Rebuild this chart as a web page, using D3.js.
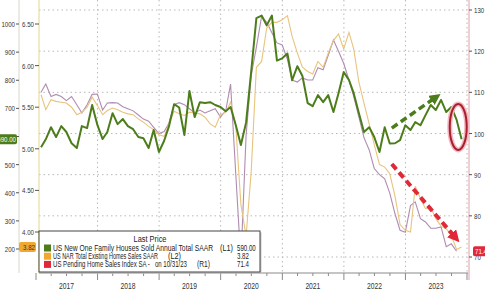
<!DOCTYPE html>
<html>
<head>
<meta charset="utf-8">
<script src="https://cdn.jsdelivr.net/npm/d3@7"></script>
<style>
  html, body { margin: 0; padding: 0; background: #fff; }
  svg { display: block; font-family: "Liberation Sans", Arial, sans-serif; }
</style>
</head>
<body>
<svg id="chart"></svg>
<script>
// monthly series, Jan 2017 onwards
const startMonth = new Date(2017, 0, 1);

// US New One Family Houses Sold, SAAR (thousands) - L1
const newHomeSales = [
  562, 590, 633, 598, 637, 616, 576, 559, 637, 630, 712, 641,
  591, 616, 683, 644, 662, 637, 626, 598, 594, 559, 623, 545,
  585, 635, 715, 703, 605, 762, 669, 722, 719, 722, 712, 705,
  690, 705, 640, 570, 650, 830, 1021, 1030, 995, 1030, 870, 878,
  895, 800, 850, 815, 719, 708, 747, 722, 747, 687, 754, 829,
  801, 754, 683, 616, 633, 598, 545, 633, 575, 576, 587, 640,
  623, 651, 640, 676, 712, 694, 730, 687, 705, 660, 590
];

// US NAR Total Existing Homes Sales, SAAR (millions) - L2
const existingHomeSales = [
  5.65, 5.47, 5.59, 5.57, 5.56, 5.55, 5.50, 5.41, 5.44, 5.50, 5.62, 5.52,
  5.41, 5.46, 5.49, 5.47, 5.44, 5.42, 5.41, 5.36, 5.32, 5.27, 5.23, 5.17,
  5.15, 5.30, 5.45, 5.42, 5.40, 5.44, 5.43, 5.42, 5.38, 5.30, 5.26, 5.41,
  5.44, 5.56, 5.27, 4.33, 3.95, 4.72, 5.98, 6.05, 6.45, 6.52, 6.52, 6.55,
  6.60, 6.35, 6.15, 5.98, 5.93, 5.90, 6.05, 5.98, 6.15, 6.30, 6.38, 6.20,
  6.40, 6.20, 5.80, 5.55, 5.30, 5.05, 4.81, 4.78, 4.70, 4.43, 4.09, 4.02,
  4.00, 4.55, 4.40, 4.28, 4.30, 4.16, 4.07, 4.04, 3.96, 3.79, 3.82
];

// US Pending Home Sales Index SA - R1
const pendingHomeSales = [
  110, 112, 109, 109.5, 109, 108, 109, 107, 105, 107, 109.5, 109.6,
  105.7, 107.4, 107.5, 107.4, 106.5, 106, 105.5, 104.5, 103.5, 103, 101.5, 100,
  100.5, 102.5, 107, 107.5, 107, 106, 105, 105.7, 105, 105.5, 106, 104,
  105.5, 112, 90, 69, 99.6, 114, 121, 128.5, 127, 124.5, 122, 121.5,
  118, 113, 112.5, 113.5, 113, 113, 116, 115.5, 119, 122.7, 120, 117,
  113, 109, 104, 99, 96, 91.5, 90, 89, 85.5, 80.5, 76.5, 76,
  82.5, 83.4, 79.3, 78.5, 77, 77, 77.3, 72.5, 73.2, 71.4
];

const l1Ticks = [200, 300, 400, 500, 600, 700, 800, 900, 1000];
const l2Ticks = [4.0, 4.5, 5.0, 5.5, 6.0, 6.5];
const r1Ticks = [70, 80, 90, 100, 110, 120, 130];
const years = [2017, 2018, 2019, 2020, 2021, 2022, 2023];

const legendRows = [
  { name: "US New One Family Houses Sold Annual Total SAAR", axis: "(L1)", last: "590.00", color: "#4c7d1a" },
  { name: "US NAR Total Existing Homes Sales SAAR", axis: "(L2)", last: "3.82", color: "#f0a830" },
  { name: "US Pending Home Sales Index SA -   on 10/31/23", axis: "(R1)", last: "71.4", color: "#e0283a" }
];

const width = 485;
const height = 291;
const plot = { left: 39, right: 467, top: 0, bottom: 273 };

// the chart font is a narrow one: squeeze labels to their measured width
const numWidth = (s) => s.replace(/[^0-9]/g, "").length * 3.4 + s.replace(/[0-9]/g, "").length * 1.7;

const svg = d3.select("#chart").attr("width", width).attr("height", height);

// points sit at month end
const monthDate = (i) => new Date(startMonth.getFullYear(), startMonth.getMonth() + i + 1, 0);

const x = d3.scaleTime()
  .domain([new Date(2017, 0, 1), new Date(2024, 0, 1)])
  .range([36, 467]);

const yL1 = d3.scaleLinear().domain([200, 1000]).range([249, 24]);
const yL2 = d3.scaleLinear().domain([4.0, 6.5]).range([232, 24]);
const yR1 = d3.scaleLinear().domain([70, 130]).range([257, 10]);

const defs = svg.append("defs");
defs.append("clipPath").attr("id", "plotClip")
  .append("rect")
  .attr("x", plot.left).attr("y", plot.top)
  .attr("width", plot.right - plot.left).attr("height", plot.bottom - plot.top);

// dotted grid
const grid = svg.append("g");
grid.selectAll("line.h")
  .data(r1Ticks)
  .enter().append("line")
  .attr("x1", plot.left).attr("x2", plot.right)
  .attr("y1", (d) => yR1(d)).attr("y2", (d) => yR1(d))
  .attr("stroke", "#b8b8b8").attr("stroke-width", 1)
  .attr("stroke-dasharray", "1.5,3");

grid.selectAll("line.v")
  .data(years.map((yr) => new Date(yr + 1, 0, 1)))
  .enter().append("line")
  .attr("x1", (d) => x(d)).attr("x2", (d) => x(d))
  .attr("y1", plot.top).attr("y2", plot.bottom)
  .attr("stroke", "#b8b8b8").attr("stroke-width", 1)
  .attr("stroke-dasharray", "1.5,3");

// series
const lines = svg.append("g").attr("clip-path", "url(#plotClip)");

const pendingLine = d3.line().x((d, i) => x(monthDate(i))).y((d) => yR1(d));
const existingLine = d3.line().x((d, i) => x(monthDate(i))).y((d) => yL2(d));
const newLine = d3.line().x((d, i) => x(monthDate(i))).y((d) => yL1(d));

lines.append("path")
  .attr("d", pendingLine(pendingHomeSales))
  .attr("fill", "none").attr("stroke", "#b08cb2").attr("stroke-width", 1.1);

lines.append("path")
  .attr("d", existingLine(existingHomeSales))
  .attr("fill", "none").attr("stroke", "#e8c47c").attr("stroke-width", 1.1);

lines.append("path")
  .attr("d", newLine(newHomeSales))
  .attr("fill", "none").attr("stroke", "#4c7d1a").attr("stroke-width", 2)
  .attr("stroke-linejoin", "round");

// x axis
const xAxis = svg.append("g");
xAxis.append("line")
  .attr("x1", plot.left).attr("x2", plot.right + 1)
  .attr("y1", plot.bottom).attr("y2", plot.bottom)
  .attr("stroke", "#8a8a8a");

const quarters = d3.timeMonth.every(3).range(new Date(2017, 0, 1), new Date(2024, 0, 2));
xAxis.selectAll("line.tick")
  .data(quarters)
  .enter().append("line")
  .attr("x1", (d) => x(d)).attr("x2", (d) => x(d))
  .attr("y1", plot.bottom)
  .attr("y2", (d) => (d.getMonth() === 0 ? plot.bottom + 7 : plot.bottom + 3))
  .attr("stroke", "#8a8a8a");

xAxis.selectAll("text")
  .data(years)
  .enter().append("text")
  .attr("x", (d) => x(new Date(d, 6, 1)))
  .attr("y", 289)
  .attr("text-anchor", "middle")
  .attr("font-size", "8.5px")
  .attr("fill", "#333")
  .attr("textLength", 15).attr("lengthAdjust", "spacingAndGlyphs")
  .text((d) => d);

// L1 axis
const l1 = svg.append("g");
l1.append("line").attr("x1", 19).attr("x2", 19).attr("y1", 0).attr("y2", plot.bottom)
  .attr("stroke", "#d8d8cc");
l1.selectAll("line.t").data(l1Ticks).enter().append("line")
  .attr("x1", 16).attr("x2", 19)
  .attr("y1", (d) => yL1(d)).attr("y2", (d) => yL1(d))
  .attr("stroke", "#555");
l1.selectAll("text").data(l1Ticks).enter().append("text")
  .attr("x", 15).attr("y", (d) => yL1(d) + 3)
  .attr("text-anchor", "end").attr("font-size", "8px").attr("fill", "#333")
  .attr("textLength", (d) => numWidth(String(d))).attr("lengthAdjust", "spacingAndGlyphs")
  .text((d) => d);

// L2 axis
const l2 = svg.append("g");
l2.append("line").attr("x1", plot.left).attr("x2", plot.left).attr("y1", 0).attr("y2", plot.bottom)
  .attr("stroke", "#e6d68c");
l2.selectAll("line.t").data(l2Ticks).enter().append("line")
  .attr("x1", 35).attr("x2", plot.left)
  .attr("y1", (d) => yL2(d)).attr("y2", (d) => yL2(d))
  .attr("stroke", "#555");
l2.selectAll("text").data(l2Ticks).enter().append("text")
  .attr("x", 34).attr("y", (d) => yL2(d) + 3)
  .attr("text-anchor", "end").attr("font-size", "8px").attr("fill", "#333")
  .attr("textLength", (d) => numWidth(d.toFixed(2))).attr("lengthAdjust", "spacingAndGlyphs")
  .text((d) => d.toFixed(2));

// R1 axis
const r1 = svg.append("g");
r1.append("line").attr("x1", 469).attr("x2", 469).attr("y1", 0).attr("y2", plot.bottom + 7)
  .attr("stroke", "#dca0aa");
r1.selectAll("line.t").data(r1Ticks).enter().append("line")
  .attr("x1", 469).attr("x2", 472)
  .attr("y1", (d) => yR1(d)).attr("y2", (d) => yR1(d))
  .attr("stroke", "#555");
r1.selectAll("text").data(r1Ticks).enter().append("text")
  .attr("x", 474).attr("y", (d) => yR1(d) + 3)
  .attr("font-size", "8px").attr("fill", "#333")
  .attr("textLength", (d) => numWidth(String(d))).attr("lengthAdjust", "spacingAndGlyphs")
  .text((d) => d);

// last value tags
const tag = (g, xPos, yPos, w, fill, textFill, label, anchor) => {
  g.append("rect")
    .attr("x", xPos).attr("y", yPos - 5).attr("width", w).attr("height", 10)
    .attr("rx", 2).attr("fill", fill);
  g.append("text")
    .attr("x", anchor === "end" ? xPos + w - 1 : xPos + 2)
    .attr("y", yPos + 3)
    .attr("text-anchor", anchor)
    .attr("font-size", "8px").attr("fill", textFill)
    .attr("textLength", numWidth(label)).attr("lengthAdjust", "spacingAndGlyphs")
    .text(label);
};
const tags = svg.append("g");
tag(tags, -6, yL1(newHomeSales[newHomeSales.length - 1]), 23, "#4c7d1a", "#fff", "590.00", "end");
tag(tags, 19, yL2(existingHomeSales[existingHomeSales.length - 1]), 17, "#f0a830", "#333", "3.82", "end");
tag(tags, 473, yR1(pendingHomeSales[pendingHomeSales.length - 1]), 18, "#e0283a", "#fff", "71.4", "start");

// annotations
defs.append("marker").attr("id", "headGreen")
  .attr("viewBox", "0 0 10 10").attr("refX", 5).attr("refY", 5)
  .attr("markerWidth", 3.2).attr("markerHeight", 3.2).attr("orient", "auto")
  .append("path").attr("d", "M0,0 L10,5 L0,10 Z").attr("fill", "#4c7d1a");
defs.append("marker").attr("id", "headRed")
  .attr("viewBox", "0 0 10 10").attr("refX", 5).attr("refY", 5)
  .attr("markerWidth", 3).attr("markerHeight", 3).attr("orient", "auto")
  .append("path").attr("d", "M0,0 L10,5 L0,10 Z").attr("fill", "#e0283a");

const notes = svg.append("g");
notes.append("line")
  .attr("x1", x(new Date(2022, 9, 12))).attr("y1", yL1(630))
  .attr("x2", x(new Date(2023, 6, 1))).attr("y2", yL1(740))
  .attr("stroke", "#4c7d1a").attr("stroke-width", 3.5)
  .attr("stroke-dasharray", "7,4")
  .attr("marker-end", "url(#headGreen)");

notes.append("line")
  .attr("x1", x(new Date(2022, 9, 12))).attr("y1", yL1(502))
  .attr("x2", x(new Date(2023, 9, 25))).attr("y2", yL1(240))
  .attr("stroke", "#e0283a").attr("stroke-width", 4)
  .attr("stroke-dasharray", "7,4")
  .attr("marker-end", "url(#headRed)");

notes.append("ellipse")
  .attr("cx", x(new Date(2023, 10, 10))).attr("cy", yL1(634))
  .attr("rx", 8.5).attr("ry", 23)
  .attr("fill", "none").attr("stroke", "#f4b8c0").attr("stroke-width", 5);
notes.append("ellipse")
  .attr("cx", x(new Date(2023, 10, 10))).attr("cy", yL1(634))
  .attr("rx", 8.5).attr("ry", 23)
  .attr("fill", "none").attr("stroke", "#a8202e").attr("stroke-width", 2);

// legend
const legend = svg.append("g").attr("transform", "translate(39, 231)");
legend.append("rect")
  .attr("x", 1.5).attr("y", 1.5).attr("width", 221).attr("height", 41)
  .attr("fill", "#c8c8c8");
legend.append("rect")
  .attr("x", 0).attr("y", 0).attr("width", 221).attr("height", 41)
  .attr("fill", "#fff").attr("stroke", "#444").attr("stroke-width", 1);
legend.append("text")
  .attr("x", 111).attr("y", 11)
  .attr("text-anchor", "middle").attr("font-size", "8.5px").attr("fill", "#222")
  .attr("textLength", 33).attr("lengthAdjust", "spacingAndGlyphs")
  .text("Last Price");

// measured spans of the legend texts (start, length) relative to the box
const nameLen = [160, 105, 134];
const axisX = [181, 129, 158];

legendRows.forEach((row, index) => {
  const legendRow = legend.append("g").attr("transform", `translate(0, ${17 + index * 8.2})`);
  legendRow.append("rect")
    .attr("x", 5).attr("y", -3.5).attr("width", 7).attr("height", 7)
    .attr("fill", row.color);
  legendRow.append("text")
    .attr("x", 14).attr("y", 3).attr("font-size", "8.5px").attr("fill", "#222")
    .attr("xml:space", "preserve")
    .attr("textLength", nameLen[index]).attr("lengthAdjust", "spacingAndGlyphs")
    .text(row.name);
  legendRow.append("text")
    .attr("x", axisX[index])
    .attr("y", 3).attr("font-size", "8.5px").attr("fill", "#222")
    .attr("textLength", 13).attr("lengthAdjust", "spacingAndGlyphs")
    .text(row.axis);
  legendRow.append("text")
    .attr("x", 198).attr("y", 3).attr("font-size", "8.5px").attr("fill", "#222")
    .attr("textLength", numWidth(row.last)).attr("lengthAdjust", "spacingAndGlyphs")
    .text(row.last);
});
</script>
</body>
</html>
